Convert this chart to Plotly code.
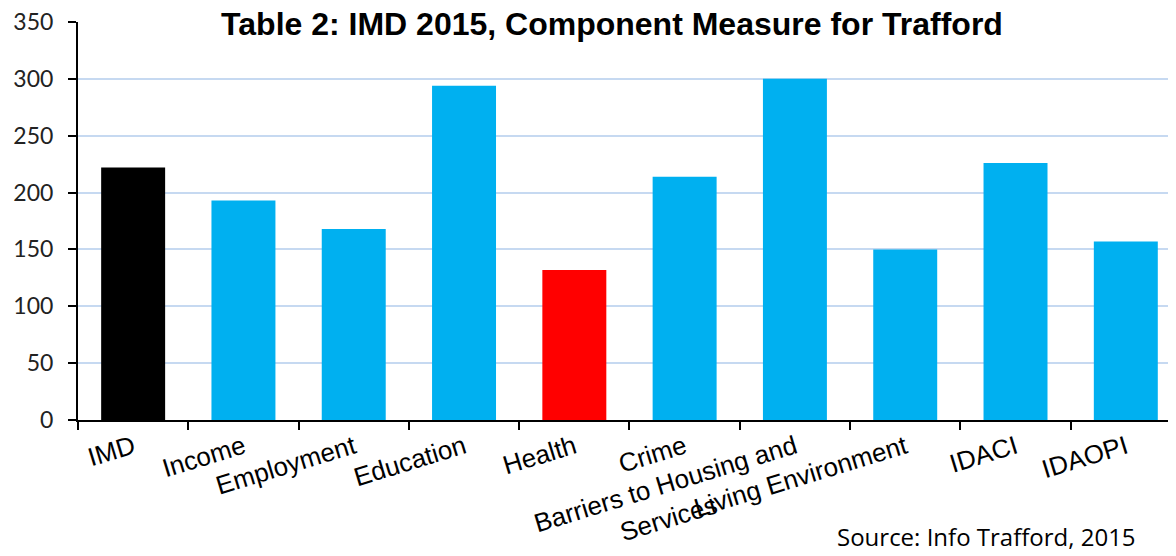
import plotly.graph_objects as go

categories = ["IMD", "Income", "Employment", "Education", "Health", "Crime",
              "Barriers to Housing and<br>\u00a0\u00a0\u00a0\u00a0\u00a0\u00a0\u00a0\u00a0\u00a0\u00a0\u00a0\u00a0\u00a0\u00a0\u00a0\u00a0\u00a0Services\u00a0\u00a0\u00a0\u00a0\u00a0\u00a0\u00a0\u00a0\u00a0\u00a0\u00a0\u00a0\u00a0",
              "Living Environment", "IDACI", "IDAOPI"]
values = [222, 193, 168, 294, 132, 214, 300, 150, 226, 157]
colors = ["#000000", "#00B0F0", "#00B0F0", "#00B0F0", "#FF0000", "#00B0F0",
          "#00B0F0", "#00B0F0", "#00B0F0", "#00B0F0"]
y_ticks = [0, 50, 100, 150, 200, 250, 300, 350]

fig = go.Figure(go.Bar(x=categories, y=values, marker=dict(color=colors, line=dict(width=0))))

fig.update_layout(
    width=1176, height=556,
    margin=dict(l=70, r=8, t=14, b=144, autoexpand=False),
    paper_bgcolor="white", plot_bgcolor="white",
    bargap=0.42,
    showlegend=False,
    title=dict(text="<b>Table 2: IMD 2015, Component Measure for Trafford</b>",
               x=0.5136, xanchor="center", y=0.972, yanchor="middle", yref="container",
               font=dict(family="Liberation Sans", size=32, color="#000000")),
)
fig.update_xaxes(
    type="category", range=[-0.5, 9.455], automargin=False,
    tickson="boundaries", ticks="outside", ticklen=8, tickwidth=2, tickcolor="#000",
    showline=True, linecolor="#000", linewidth=2,
    showgrid=False, tickangle=-17,
    tickfont=dict(family="Liberation Sans", size=26, color="#000"),
)
fig.update_yaxes(
    range=[0, 350], tickvals=y_ticks, automargin=False,
    ticks="outside", ticklen=8, tickwidth=2, tickcolor="#000",
    showline=True, linecolor="#000", linewidth=2,
    showgrid=True, gridcolor="#C6D9F1", gridwidth=2,
    zeroline=False, ticklabelstandoff=10, ticklabeloverflow="allow",
    tickfont=dict(family="Lato", size=23, color="#222"),
)
fig.add_annotation(text="Source: Info Trafford, 2015", xref="paper", yref="paper",
                   x=1.0, y=-0.245, xanchor="right", yanchor="top", showarrow=False, xshift=-38,
                   font=dict(family="Open Sans", size=24, color="#000"))

fig.write_html("out.html")
